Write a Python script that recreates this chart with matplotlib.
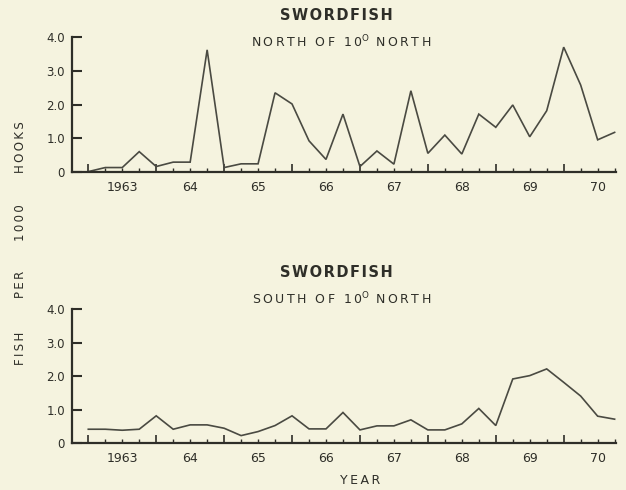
import matplotlib
matplotlib.use("Agg")
import matplotlib.pyplot as plt
import matplotlib.transforms as mtransforms
import numpy as np

# ── palette ──────────────────────────────────────────────────────────────────
BG   = "#f5f3df"
INK  = "#2e2e28"
LINE = "#4a4a42"

plt.rcParams["font.family"] = ["DejaVu Sans"]

THIN = "\u2009"
HAIR = "\u200a"


def spaced(s, sep=THIN):
    # open up the letter spacing for the stencil-style captions
    return sep.join(s)


# ── quarterly catch rates, fish per 1000 hooks, 1963 Q1 – 1970 Q4 ────────────
years = np.arange(1963, 1971)
quarter = np.arange(1963, 1971, 0.25)

north = [0.02, 0.14, 0.14, 0.61, 0.17, 0.30, 0.30, 3.62,
         0.14, 0.25, 0.25, 2.35, 2.02, 0.93, 0.38, 1.72,
         0.17, 0.63, 0.24, 2.41, 0.56, 1.10, 0.54, 1.72,
         1.33, 1.99, 1.05, 1.82, 3.70, 2.58, 0.96, 1.18]

south = [0.42, 0.42, 0.39, 0.42, 0.82, 0.42, 0.55, 0.55,
         0.45, 0.23, 0.35, 0.53, 0.82, 0.43, 0.43, 0.92,
         0.40, 0.52, 0.52, 0.70, 0.40, 0.40, 0.58, 1.04,
         0.53, 1.92, 2.02, 2.22, 1.82, 1.41, 0.81, 0.72]

year_labels = ["1963", "64", "65", "66", "67", "68", "69", "70"]
y_ticks = [0, 1, 2, 3, 4]
y_labels = ["0", "1.0", "2.0", "3.0", "4.0"]


def region(word):
    return (spaced(word + " OF 10") + "$^{\\mathrm{O}}$" + THIN + " " + spaced("NORTH"))


panels = [
    (north, region("NORTH"), [0.115, 0.6484, 0.869, 0.2761], 0.968, 0.914),
    (south, region("SOUTH"), [0.115, 0.0953, 0.869, 0.2735], 0.444, 0.390),
]

fig = plt.figure(figsize=(6.26, 4.9), dpi=100)
fig.patch.set_facecolor(BG)

for series, subtitle, rect, ty, sy in panels:
    ax = fig.add_axes(rect)
    ax.set_facecolor("none")
    ax.plot(quarter, series, color=LINE, linewidth=1.2, solid_joinstyle="miter")

    ax.set_xlim(1962.76, 1970.77)
    ax.set_ylim(0, 4)
    for side in ("top", "right"):
        ax.spines[side].set_visible(False)
    for side in ("left", "bottom"):
        ax.spines[side].set_color(INK)
        ax.spines[side].set_linewidth(1.6)

    ax.set_yticks(y_ticks)
    ax.set_yticklabels(y_labels)
    ax.tick_params(axis="y", direction="in", length=7, width=1.5, color=INK,
                   labelcolor=INK, labelsize=8.5, pad=5)

    ax.set_xticks(years)
    ax.set_xticklabels([])
    ax.set_xticks(quarter, minor=True)
    ax.tick_params(axis="x", which="major", direction="in", length=6, width=1.2, color=INK)
    ax.tick_params(axis="x", which="minor", direction="in", length=3, width=1.0, color=INK)

    # year names sit in the middle of each year
    trans = mtransforms.blended_transform_factory(ax.transData, ax.transAxes)
    for yr, lab in zip(years, year_labels):
        ax.text(yr + 0.5, -0.11, lab, transform=trans, ha="center", va="center",
                fontsize=9, color=INK)

    fig.text(0.538, ty, spaced("SWORDFISH", HAIR), ha="center", va="center",
             fontsize=10.5, fontweight="bold", color=INK)
    fig.text(0.545, sy, subtitle, ha="center", va="center", fontsize=9, color=INK)

fig.text(0.575, 0.020, spaced("YEAR"), ha="center", va="center", fontsize=9, color=INK)

# vertical axis title, words spread down the left margin
for word, yy in [("HOOKS", 0.700), ("1000", 0.545), ("PER", 0.420), ("FISH", 0.290)]:
    fig.text(0.032, yy, spaced(word), rotation=90, ha="center", va="center",
             fontsize=8.5, color=INK)

fig.savefig("out.png", dpi=100, facecolor=BG)
